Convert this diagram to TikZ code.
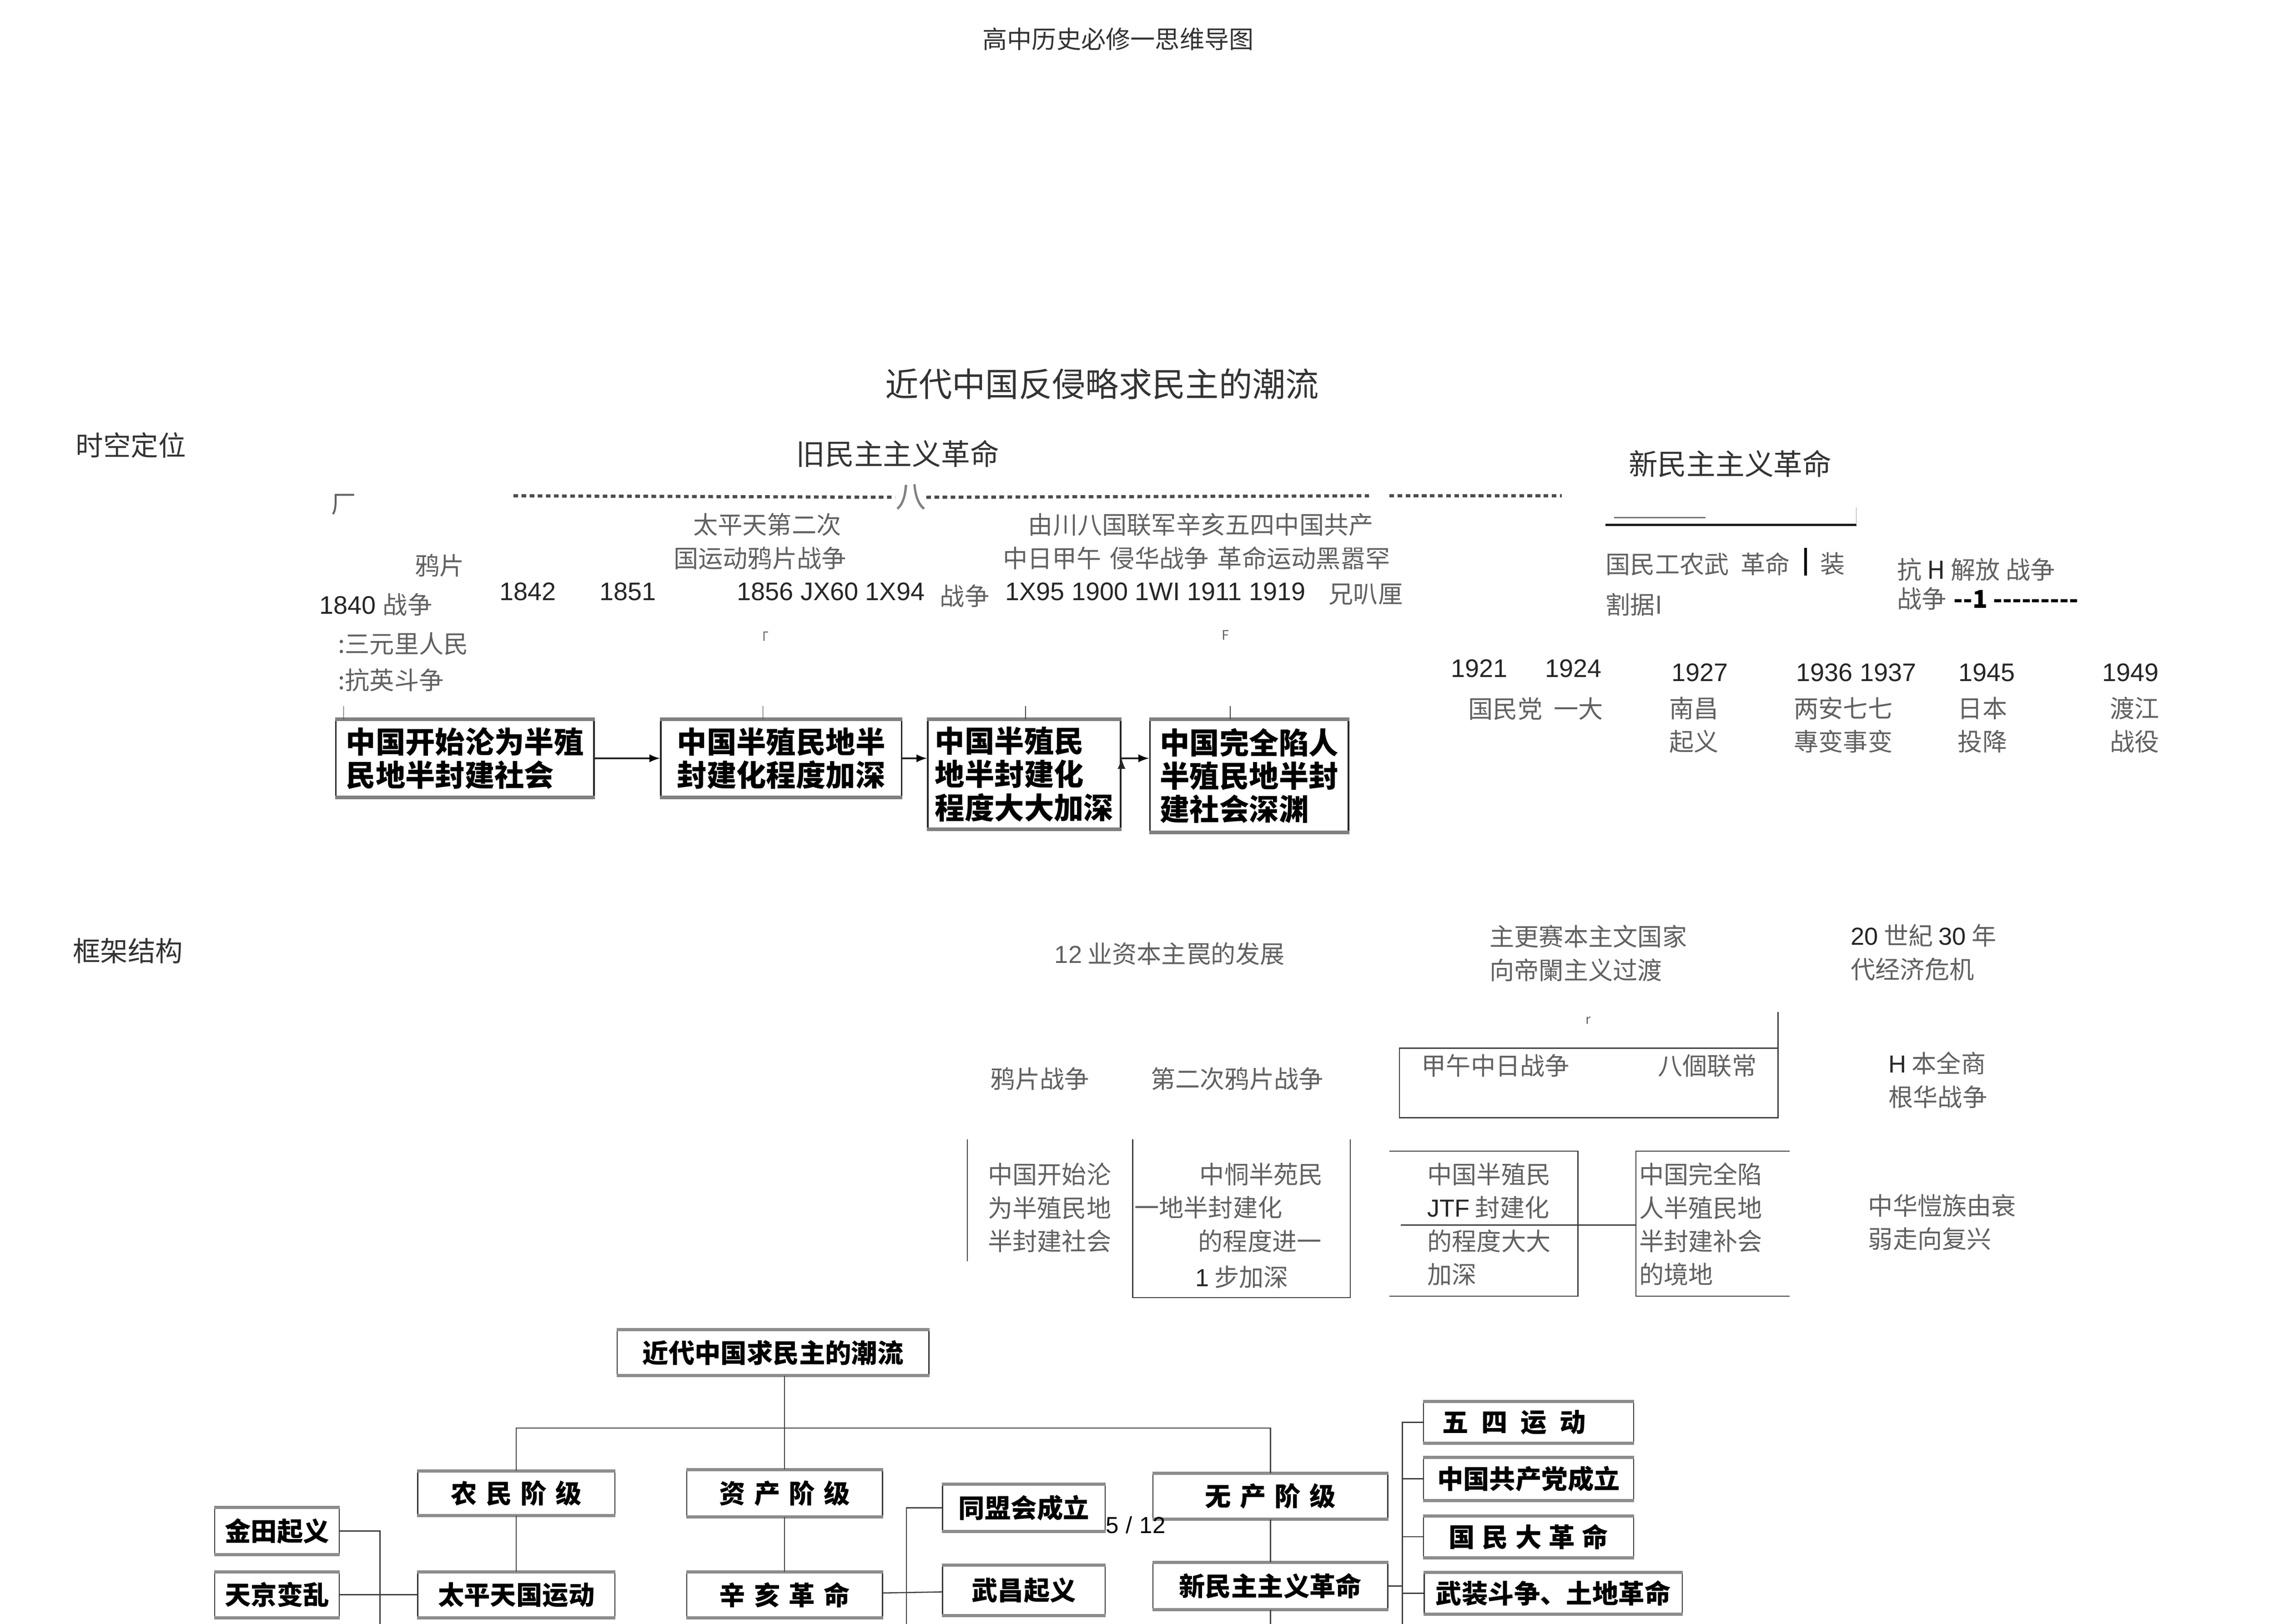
\documentclass[tikz,border=0pt]{standalone}
\usepackage{fontspec}
\setmainfont{Noto Sans CJK SC}
\newfontfamily\latinfont{Liberation Sans}
\usetikzlibrary{positioning}

\begin{document}
\begin{tikzpicture}[x=1pt, y=-1pt,
  note/.style={inner sep=0pt, text=black!62, align=left, font=\fontsize{17}{23}\selectfont},
  yr/.style={inner sep=0pt, text=black!85, font=\latinfont\fontsize{17.5}{23}\selectfont},
  head/.style={inner sep=0pt, text=black!80, font=\fontsize{#1}{#1}\selectfont},
  stage/.style={draw=black!85, line width=1.1pt, fill=white, align=left, inner sep=3pt,
    font=\fontsize{20.5}{23}\selectfont\bfseries, anchor=north west,
    append after command={(\tikzlastnode.north west) edge[draw=black!50, line width=2.5pt] (\tikzlastnode.north east)
      (\tikzlastnode.south west) edge[draw=black!50, line width=2.5pt] (\tikzlastnode.south east)}},
  tbox/.style={draw=black!80, line width=.8pt, fill=white, align=center, inner sep=2pt,
    font=\fontsize{18}{20}\selectfont\bfseries,
    append after command={(\tikzlastnode.north west) edge[draw=black!45, line width=2.2pt] (\tikzlastnode.north east)
      (\tikzlastnode.south west) edge[draw=black!45, line width=2.2pt] (\tikzlastnode.south east)}},
  rule/.style={draw=black!75, line width=.8pt},
  dots/.style={draw=black!70, line width=2.2pt, dash pattern=on 3.2pt off 2.4pt}
]
\useasboundingbox (0,0) rectangle (1568,1120);

\node[head=17] (page) at (771,27) {高中历史必修一思维导图};
\node[head=23] (title) at (760,265) {近代中国反侵略求民主的潮流};
\node[head=19, anchor=west] (shikong) at (52,307) {时空定位};
\node[head=20] (jiu) at (619,313) {旧民主主义革命};
\node[head=20] (xin) at (1193,320) {新民主主义革命};

\node[note] (chang) at (237,348) {厂};
\node[note, text=black!50, font=\fontsize{21}{21}\selectfont] (ba) at (628,343) {八};
\draw[dots] (354,342) -- (ba.west);
\draw[dots] (ba.east) -- (944,342);
\draw[dots] (958,342) -- (1077,342);

\node[note] (taiping) at (529,362) {太平天第二次};
\node[note] (youchuan) at (828,362) {由川八国联军辛亥五四中国共产};
\node[note] (guoyun) at (524,385) {国运动鸦片战争};
\node[note] (zhongri) at (825,385) {中日甲午\hspace{6pt}侵华战争\hspace{6pt}革命运动黑嚣罕};
\node[note] (yapian) at (303,390) {鸦片};
\node[yr, anchor=west] (y1840) at (220,417) {1840 {\normalfont\fontsize{17}{23}\selectfont\color{black!62}战争}};
\node[yr] (y1842) at (364,408) {1842};
\node[yr] (y1851) at (433,408) {1851};
\node[yr, anchor=west] (y1856) at (508,408) {1856 JX60 1X94};
\node[note, anchor=west] (zz) at (648,411) {战争};
\node[yr, anchor=west] (y1895) at (693,408) {1X95 1900 1WI 1911 1919};
\node[note, anchor=west] (xiong) at (916,410) {兄叭厘};
\node[note, anchor=west] (sanyuan) at (233,444) {:三元里人民};
\node[note, anchor=west] (kangying) at (233,469) {:抗英斗争};
\node[note, font=\fontsize{10}{10}\selectfont] (m1) at (525,440) {「};
\node[note, font=\fontsize{9}{9}\selectfont] (m2) at (845,438) {F};

\node[stage, minimum width=178pt, minimum height=53pt] (b1) at (231,496) {中国开始沦为半殖\\民地半封建社会};
\node[stage, minimum width=166pt, minimum height=53pt, right=45pt of b1.north east, anchor=north west] (b2) {中国半殖民地半\\封建化程度加深};
\node[stage, minimum width=133pt, minimum height=75pt, right=17pt of b2.north east, anchor=north west] (b3) {中国半殖民\\地半封建化\\程度大大加深};
\node[stage, minimum width=137pt, minimum height=77pt, right=19pt of b3.north east, anchor=north west] (b4) {中国完全陷人\\半殖民地半封\\建社会深渊};
\draw[rule, thin] ([xshift=6pt]b1.north west) -- ++(0,-9);
\draw[rule, thin] ([xshift=71pt]b2.north west) -- ++(0,-9);
\draw[rule, thin] ([xshift=68pt]b3.north west) -- ++(0,-9);
\draw[rule, thin] ([xshift=56pt]b4.north west) -- ++(0,-9);
\path[->, >=latex, draw=black!85, line width=1.5pt]
  (b1.east) edge (b2.west)
  (b2.east) edge (b2.east -| b3.west)
  (b3.east |- b2.east) edge (b4.west |- b2.east);

\draw[black!55, line width=1pt] (1113,357) -- (1176,357);
\draw[black!90, line width=1.6pt] (1107,362) -- (1280,362);
\draw[black!40, thin] (1280,350) -- (1280,362);
\node[note, anchor=west] (gongnong) at (1107,389) {国民工农武\hspace{8pt}革命};
\draw[black, line width=2pt] (1245,378) -- (1245,397);
\node[note, anchor=west] (zhuang) at (1255,389) {装};
\node[note, anchor=west] (geju) at (1107,417) {割据I};
\node[note, anchor=west] (kangri) at (1308,393) {抗 {\color{black!85}H} 解放\hspace{4pt}战争};
\node[note, anchor=west] (jiefang) at (1308,413) {战争\hspace{5pt}{\color{black}\bfseries{-}{-}1 {-}{-}{-}{-}{-}{-}{-}{-}{-}}};

\node[yr] (y1921) at (1020,461) {1921};
\node[yr] (y1924) at (1085,461) {1924};
\node[yr] (y1927) at (1172,464) {1927};
\node[yr] (y1936) at (1280,464) {1936 1937};
\node[yr] (y1945) at (1370,464) {1945};
\node[yr] (y1949) at (1469,464) {1949};
\node[note] (yida) at (1059,489) {国民党\hspace{8pt}一大};
\node[note] (nanchang) at (1168,500) {南昌\\起义};
\node[note] (xian) at (1271,500) {两安七七\\專变事变};
\node[note] (touxiang) at (1367,500) {日本\\投降};
\node[note] (dujiang) at (1472,500) {渡江\\战役};

\node[head=19, anchor=west] (kuangjia) at (50,656) {框架结构};
\node[note, anchor=west] (ziben) at (727,658) {{\latinfont 12} 业资本主罠的发展};
\node[note, anchor=west] (diguo) at (1027,657.5) {主更赛本主文国家\\向帝闌主义过渡};
\node[note, anchor=west] (weiji) at (1276,657) {{\latinfont\color{black!85}20} 世紀 {\latinfont\color{black!85}30} 年\\代经济危机};
\node[note, font=\fontsize{9}{9}\selectfont] (m3) at (1095,704) {r};

\draw[rule] (1226,698) -- (1226,771) -- (965,771) -- (965,723) -- (1226,723);
\node[note, anchor=west] (jiawu) at (980,735) {甲午中日战争};
\node[note, anchor=west] (baguo) at (1143,735) {八個联常};
\node[note, anchor=west] (kangzhan) at (1302,745) {{\latinfont\color{black!85}H} 本全商\\根华战争};
\node[note] (yapianzz) at (717,744) {鸦片战争};
\node[note] (dierci) at (853,744) {第二次鸦片战争};

\draw[rule] (667,786) -- (667,870);
\draw[rule] (781,786) -- (781,895) -- (931,895) -- (931,786);
\node[note, anchor=west] (kaishi) at (681,833) {中国开始沦\\为半殖民地\\半封建社会};
\node[note, anchor=west] (jin1) at (827,810) {中恫半苑民};
\node[note, anchor=west] (jin2) at (782,833) {一地半封建化};
\node[note, anchor=west] (jin3) at (826,856) {的程度进一};
\node[note, anchor=west] (jin4) at (824,881) {{\latinfont\color{black!85}1} 步加深};

\draw[rule] (958,794) -- (1088,794) -- (1088,894) -- (958,894);
\draw[rule] (966,845) -- (1128,845);
\draw[rule] (1234,794) -- (1128,794) -- (1128,894) -- (1234,894);
\node[note, anchor=west] (da1) at (984,844.5) {中国半殖民\\{\latinfont\color{black!85}JTF} 封建化\\的程度大大\\加深};
\node[note, anchor=west] (shen1) at (1130,844.5) {中国完全陷\\人半殖民地\\半封建补会\\的境地};
\node[note, anchor=west] (fuxing) at (1288,843) {中华愷族由衰\\弱走向复兴};

\node[tbox, minimum width=215pt, minimum height=31pt] (root) at (533,933) {近代中国求民主的潮流};
\node[tbox, minimum width=136pt, minimum height=30pt] (nong) at (356,1030) {农\hspace{6pt}民\hspace{6pt}阶\hspace{6pt}级};
\node[tbox, minimum width=135pt, minimum height=32pt] (zi) at (541,1030) {资\hspace{6pt}产\hspace{6pt}阶\hspace{6pt}级};
\node[tbox, minimum width=162pt, minimum height=31pt] (wu) at (876,1032) {无\hspace{6pt}产\hspace{6pt}阶\hspace{6pt}级};
\node[tbox, minimum width=112pt, minimum height=32pt] (tong) at (706,1040) {同盟会成立};
\node[tbox, minimum width=86pt, minimum height=32pt] (jintian) at (191,1056) {金田起义};
\node[tbox, minimum width=86pt, minimum height=31pt] (tianjing) at (191,1100) {天京变乱};
\node[tbox, minimum width=136pt, minimum height=31pt] (tai) at (356,1100) {太平天国运动};
\node[tbox, minimum width=135pt, minimum height=31pt] (xinhai) at (541,1100) {辛\hspace{6pt}亥\hspace{6pt}革\hspace{6pt}命};
\node[tbox, minimum width=112pt, minimum height=34pt] (wuchang) at (706,1097) {武昌起义};
\node[tbox, minimum width=162pt, minimum height=32pt] (xinmin) at (876,1094) {新民主主义革命};
\node[tbox, minimum width=145pt, minimum height=28pt] (wusi) at (1054,981) {五\hspace{9pt}四\hspace{9pt}运\hspace{9pt}动\hspace{20pt}};
\node[tbox, minimum width=145pt, minimum height=29pt] (gong) at (1054,1020) {中国共产党成立};
\node[tbox, minimum width=145pt, minimum height=28pt] (guomin) at (1054,1060) {国\hspace{5pt}民\hspace{5pt}大\hspace{5pt}革\hspace{5pt}命};
\node[tbox, minimum width=178pt, minimum height=28pt] (wuzhuang) at (1071,1099) {武装斗争、土地革命};

\coordinate (fork) at (541,985);
\coordinate (tdown) at (262,1140);
\coordinate (xdown) at (625,1140);
\coordinate (rdown) at (967,1140);
\coordinate (wdown) at (876,1140);
\draw[rule] (root.south -| zi.north) -- (zi.north);
\draw[rule] (nong.north) |- (fork) -| (wu.north);
\draw[rule] (nong) -- (tai) (zi) -- (xinhai) (wu) -- (xinmin) (xinmin) -- (wdown);
\draw[rule] (jintian.east) -| (tdown);
\draw[rule] (tianjing) -- (tai);
\draw[rule] (tong.west) -| (xdown);
\draw[rule] (xinhai) -- (wuchang);
\draw[rule] (wusi.west) -| (rdown);
\draw[rule] (gong.west) -- (gong.west -| rdown);
\draw[rule] (guomin.west) -- (guomin.west -| rdown);
\draw[rule] (wuzhuang.west) -- (wuzhuang.west -| rdown);
\draw[rule] (xinmin.east) -- (xinmin.east -| rdown);

\node[head=16, text=black, font=\latinfont\fontsize{16}{16}\selectfont] (pnum) at (783,1052) {5\hspace{5pt}/\hspace{5pt}12};
\end{tikzpicture}
\end{document}
